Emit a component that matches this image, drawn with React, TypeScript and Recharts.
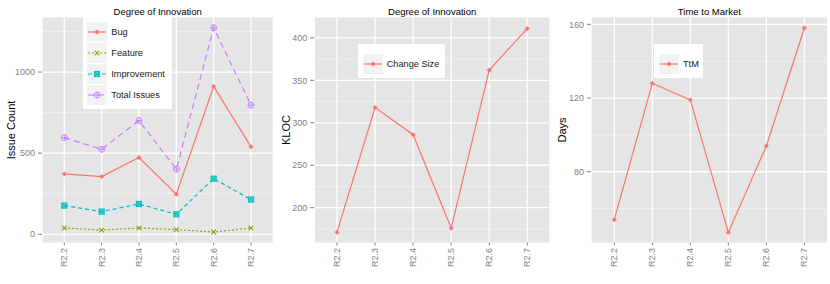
import { CartesianGrid, Line, LineChart, XAxis, YAxis } from 'recharts';

const FONT = '"Liberation Sans", Arial, Helvetica, sans-serif';
const GREY = '#7F7F7F';

const releases = ['R2.2', 'R2.3', 'R2.4', 'R2.5', 'R2.6', 'R2.7'];
const bug = [372, 356, 473, 247, 911, 539];
const feature = [39, 26, 39, 29, 14, 39];
const improvement = [177, 140, 187, 123, 343, 214];
const totalIssues = [596, 524, 701, 401, 1273, 796];
const changeSize = [171, 318, 286, 176, 362, 411];
const ttm = [54, 128, 119, 47, 94, 158];

const issueTicks = [0, 500, 1000];
const issueMinor = [250, 750, 1250];
const klocTicks = [200, 250, 300, 350, 400];
const klocMinor = [175, 225, 275, 325, 375];
const dayTicks = [80, 120, 160];
const dayMinor = [60, 100, 140];

const issueData = releases.map((r, i) => ({
  release: r,
  Bug: bug[i],
  Feature: feature[i],
  Improvement: improvement[i],
  'Total Issues': totalIssues[i],
}));
const klocData = releases.map((r, i) => ({ release: r, 'Change Size': changeSize[i] }));
const ttmData = releases.map((r, i) => ({ release: r, TtM: ttm[i] }));

type Shape = 'star' | 'x' | 'squarex' | 'circleplus';

function Marker({ cx, cy, color, shape }: { cx: number; cy: number; color: string; shape: Shape }) {
  if (cx == null || cy == null) return null;
  if (shape === 'x') {
    const s = 2.3;
    return (
      <g stroke={color} strokeWidth={1.1}>
        <line x1={cx - s} y1={cy - s} x2={cx + s} y2={cy + s} />
        <line x1={cx - s} y1={cy + s} x2={cx + s} y2={cy - s} />
      </g>
    );
  }
  if (shape === 'squarex') {
    const s = 2.6;
    return (
      <g stroke={color} strokeWidth={1}>
        <rect x={cx - s} y={cy - s} width={2 * s} height={2 * s} fill={color} fillOpacity={0.6} />
        <line x1={cx - s} y1={cy - s} x2={cx + s} y2={cy + s} />
        <line x1={cx - s} y1={cy + s} x2={cx + s} y2={cy - s} />
      </g>
    );
  }
  if (shape === 'circleplus') {
    const r = 3;
    return (
      <g stroke={color} strokeWidth={0.9} fill="none">
        <circle cx={cx} cy={cy} r={r} />
        <line x1={cx - r} y1={cy} x2={cx + r} y2={cy} />
        <line x1={cx} y1={cy - r} x2={cx} y2={cy + r} />
      </g>
    );
  }
  return (
    <g stroke={color} strokeWidth={0.8}>
      <circle cx={cx} cy={cy} r={1.5} fill={color} />
      <line x1={cx - 2.4} y1={cy} x2={cx + 2.4} y2={cy} />
      <line x1={cx} y1={cy - 2.4} x2={cx} y2={cy + 2.4} />
    </g>
  );
}

type Series = { key: string; color: string; dash?: string; shape: Shape };

const issueSeries: Series[] = [
  { key: 'Bug', color: '#F8766D', shape: 'star' },
  { key: 'Feature', color: '#7CAE00', dash: '2 2', shape: 'x' },
  { key: 'Improvement', color: '#00BFC4', dash: '4 3', shape: 'squarex' },
  { key: 'Total Issues', color: '#C77CFF', dash: '6 4', shape: 'circleplus' },
];
const klocSeries: Series[] = [{ key: 'Change Size', color: '#F8766D', shape: 'star' }];
const ttmSeries: Series[] = [{ key: 'TtM', color: '#F8766D', shape: 'star' }];

function LegendBox({ series, left, top, width, height, padTop, padLeft }: { series: Series[]; left: number; top: number; width: number; height: number; padTop: number; padLeft: number }) {
  return (
    <div
      style={{
        position: 'absolute',
        left,
        top,
        width,
        height,
        boxSizing: 'border-box',
        background: '#fff',
        paddingTop: padTop,
        paddingLeft: padLeft,
        fontFamily: FONT,
      }}
    >
      {series.map((s) => (
        <div key={s.key} style={{ display: 'flex', alignItems: 'flex-start', height: 21 }}>
          <svg width={20} height={20} style={{ display: 'block' }}>
            <rect x={0} y={0} width={20} height={20} fill="#F2F2F2" />
            <line x1={1} y1={10} x2={19} y2={10} stroke={s.color} strokeWidth={1.2} strokeDasharray={s.dash} />
            <Marker cx={10} cy={10} color={s.color} shape={s.shape} />
          </svg>
          <span style={{ marginLeft: 4, fontSize: 9.2, lineHeight: '20px', color: '#1a1a1a', whiteSpace: 'nowrap' }}>{s.key}</span>
        </div>
      ))}
    </div>
  );
}

function XTick(props: any) {
  const { x, y, payload } = props;
  return (
    <text
      x={x}
      y={y + 0.5}
      transform={`rotate(-90 ${x} ${y + 0.5})`}
      textAnchor="end"
      dominantBaseline="central"
      fill={GREY}
      fontSize={9}
      fontFamily={FONT}
    >
      {payload.value}
    </text>
  );
}

type PanelProps = {
  left: number;
  width: number;
  yWidth: number;
  marginRight: number;
  pad: number;
  title: string;
  yLabel: string;
  yLabelX: number;
  domain: [number, number];
  ticks: number[];
  minor: number[];
  data: any[];
  series: Series[];
  legend: { left: number; top: number; width: number; height: number; padTop: number; padLeft: number };
};

function Panel(p: PanelProps) {
  const plotLeft = p.yWidth;
  const plotRight = p.width - p.marginRight;
  return (
    <div style={{ position: 'absolute', left: p.left, top: 0, width: p.width, height: 284 }}>
      <LineChart width={p.width} height={284} data={p.data} margin={{ top: 17.5, right: p.marginRight, bottom: 0, left: 0 }}>
        <CartesianGrid fill="#E5E5E5" stroke="#F2F2F2" strokeWidth={0.8} vertical={false} horizontalValues={p.minor} />
        <CartesianGrid stroke="#FFFFFF" strokeWidth={1.3} horizontalValues={p.ticks} />
        <XAxis
          dataKey="release"
          padding={{ left: p.pad, right: p.pad }}
          height={41.5}
          axisLine={false}
          tickLine={{ stroke: GREY }}
          tickSize={3}
          tickMargin={2}
          interval={0}
          tick={<XTick />}
        />
        <YAxis
          type="number"
          domain={p.domain}
          ticks={p.ticks}
          allowDataOverflow
          width={p.yWidth}
          axisLine={false}
          tickLine={{ stroke: GREY }}
          tickSize={4}
          tickMargin={3}
          tick={{ fill: GREY, fontSize: 9, fontFamily: FONT }}
          label={{
            value: p.yLabel,
            content: (lp: any) => {
              const vb = lp.viewBox || { y: 17.5, height: 225 };
              const cy = vb.y + vb.height / 2;
              return (
                <text
                  x={p.yLabelX}
                  y={cy}
                  transform={`rotate(-90 ${p.yLabelX} ${cy})`}
                  textAnchor="middle"
                  dominantBaseline="central"
                  fontSize={11}
                  fontFamily={FONT}
                  fill="#000"
                >
                  {p.yLabel}
                </text>
              );
            },
          }}
        />
        {p.series.map((s) => (
          <Line
            key={s.key}
            type="linear"
            dataKey={s.key}
            stroke={s.color}
            strokeWidth={1.2}
            strokeDasharray={s.dash}
            dot={(dp: any) => <Marker key={`${s.key}-${dp.index}`} cx={dp.cx} cy={dp.cy} color={s.color} shape={s.shape} />}
            activeDot={false}
            isAnimationActive={false}
          />
        ))}
      </LineChart>
      <div
        style={{
          position: 'absolute',
          left: plotLeft,
          width: plotRight - plotLeft,
          top: 5,
          textAlign: 'center',
          fontSize: 9.5,
          fontFamily: FONT,
          color: '#000',
          lineHeight: '13px',
        }}
      >
        {p.title}
      </div>
      <LegendBox series={p.series} {...p.legend} />
    </div>
  );
}

export default function App() {
  return (
    <div style={{ position: 'fixed', left: 0, top: 0, width: 830, height: 284, background: '#fff', overflow: 'hidden' }}>
      <Panel
        left={0}
        width={280}
        yWidth={42}
        marginRight={6.7}
        pad={22.3}
        title="Degree of Innovation"
        yLabel="Issue Count"
        yLabelX={11}
        domain={[-50.5, 1336]}
        ticks={issueTicks}
        minor={issueMinor}
        data={issueData}
        series={issueSeries}
        legend={{ left: 83.3, top: 17, width: 88.4, height: 92.3, padTop: 5.3, padLeft: 4 }}
      />
      <Panel
        left={280}
        width={275}
        yWidth={34.3}
        marginRight={5}
        pad={22.7}
        title="Degree of Innovation"
        yLabel="KLOC"
        yLabelX={6}
        domain={[159, 424]}
        ticks={klocTicks}
        minor={klocMinor}
        data={klocData}
        series={klocSeries}
        legend={{ left: 77.7, top: 44, width: 87.3, height: 34.3, padTop: 10, padLeft: 5 }}
      />
      <Panel
        left={555}
        width={275}
        yWidth={36}
        marginRight={2.3}
        pad={23.3}
        title="Time to Market"
        yLabel="Days"
        yLabelX={7}
        domain={[41.6, 163.7]}
        ticks={dayTicks}
        minor={dayMinor}
        data={ttmData}
        series={ttmSeries}
        legend={{ left: 99, top: 44, width: 49, height: 34.3, padTop: 10, padLeft: 5 }}
      />
    </div>
  );
}
